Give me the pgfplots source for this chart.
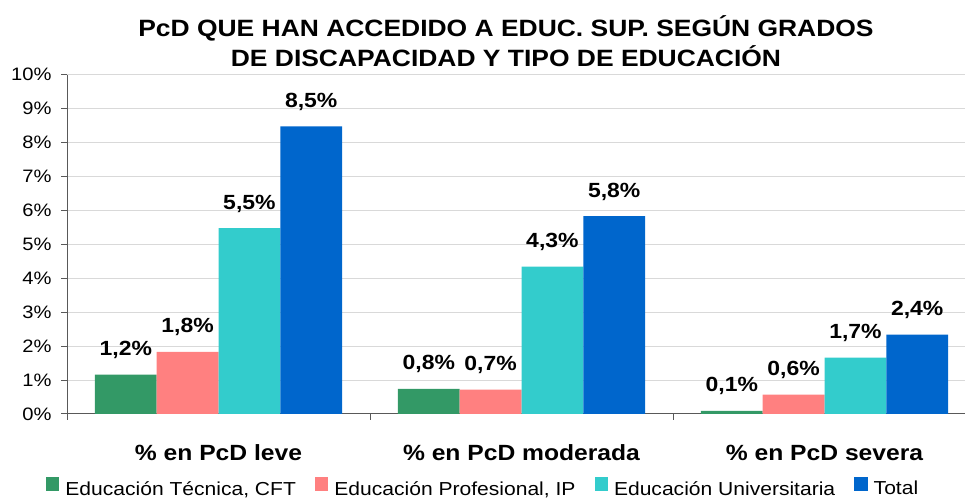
\documentclass[border=0pt]{standalone}
\usepackage{fontspec}
\setmainfont[FakeStretch=1.12]{Liberation Sans}
\usepackage{pgfplots}
\pgfplotsset{compat=1.18}
\definecolor{cA}{HTML}{339966}
\definecolor{cB}{HTML}{FF8080}
\definecolor{cC}{HTML}{33CCCC}
\definecolor{cD}{HTML}{0066CC}
\definecolor{axc}{HTML}{595959}
\definecolor{grd}{HTML}{D9D9D9}
\begin{document}
\begin{tikzpicture}[x=1bp,y=1bp]
\path[use as bounding box] (0,0) rectangle (965,498);
\node[anchor=base,font=\bfseries\fontsize{23.6bp}{28bp}\selectfont] at (506,461) {PcD QUE HAN ACCEDIDO A EDUC. SUP. SEGÚN GRADOS};
\node[anchor=base,font=\bfseries\fontsize{23.6bp}{28bp}\selectfont] at (506,431) {DE DISCAPACIDAD Y TIPO DE EDUCACIÓN};
\begin{axis}[
  at={(67bp,84bp)}, anchor=south west,
  scale only axis, width=898bp, height=339.3bp,
  ybar=0pt, bar width=61.8bp,
  xmin=-0.5, xmax=2.4637, ymin=0, ymax=10,
  clip=false,
  axis lines=left, axis line style={-, draw=axc, line width=1pt},
  ytick={0,1,...,10},
  yticklabels={0\%,1\%,2\%,3\%,4\%,5\%,6\%,7\%,8\%,9\%,10\%},
  yticklabel style={font=\fontsize{18bp}{22bp}\selectfont, xshift=-6bp},
  ymajorgrids, grid style={draw=grd, line width=1pt},
  tick align=outside, major tick length=6bp,
  tick style={draw=axc, line width=1pt},
  xtick={-0.5,0.5,1.5}, xticklabels={},
  extra x ticks={0,1,2},
  extra x tick labels={\% en PcD leve,\% en PcD moderada,\% en PcD severa},
  extra x tick style={grid=none, major tick length=0pt,
    xticklabel style={font=\bfseries\fontsize{22bp}{26bp}\selectfont, anchor=base, yshift=-47bp}},
  point meta=explicit symbolic,
  nodes near coords={\pgfplotspointmeta\%},
  every node near coord/.append style={font=\bfseries\fontsize{20.5bp}{24bp}\selectfont, anchor=base, yshift=19bp, black},
  legend style={at={(0.4633,-0.218)}, anchor=center, draw=none, fill=none,
    font=\fontsize{18.8bp}{22bp}\selectfont,
    /tikz/every odd column/.append style={column sep=4bp},
    /tikz/every even column/.append style={column sep=17bp}},
  legend columns=4,
  legend image code/.code={\fill[#1] (0bp,-2bp) rectangle (13.5bp,11.5bp);},
]
\addplot[fill=cA, draw=none] coordinates {(0,1.16) [1,2] (1,0.74) [0,8] (2,0.09) [0,1]};
\addlegendentry{Educación Técnica, CFT}
\addplot[fill=cB, draw=none] coordinates {(0,1.83) [1,8] (1,0.72) [0,7] (2,0.57) [0,6]};
\addlegendentry{Educación Profesional, IP}
\addplot[fill=cC, draw=none] coordinates {(0,5.48) [5,5] (1,4.34) [4,3] (2,1.66) [1,7]};
\addlegendentry{Educación Universitaria}
\addplot[fill=cD, draw=none] coordinates {(0,8.48) [8,5] (1,5.83) [5,8] (2,2.34) [2,4]};
\addlegendentry{Total}
\end{axis}
\end{tikzpicture}
\end{document}
